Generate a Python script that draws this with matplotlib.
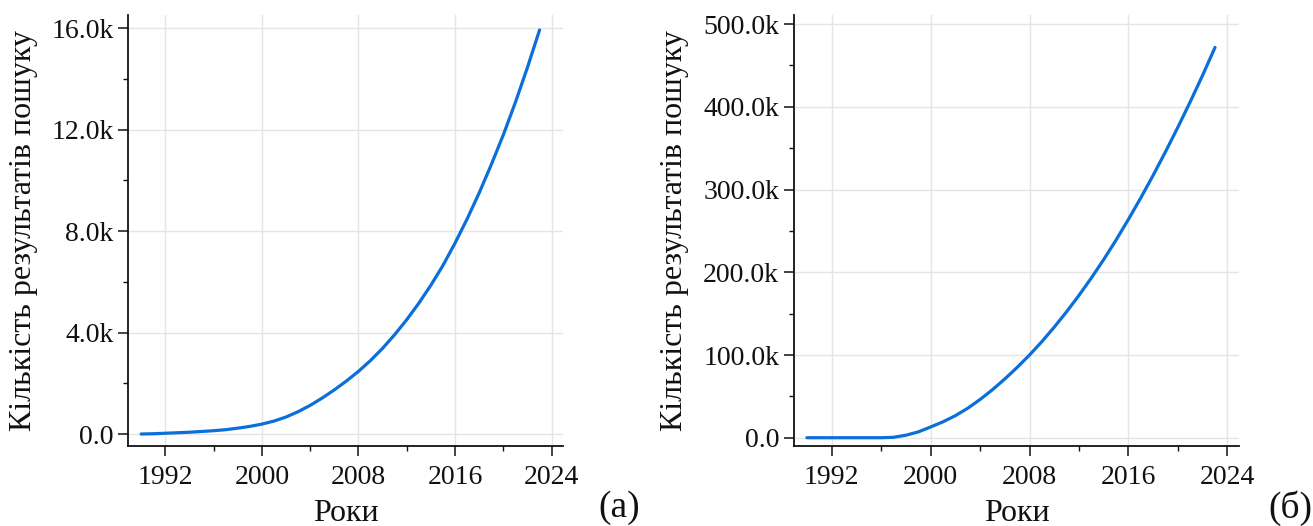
import matplotlib
matplotlib.use("Agg")
import matplotlib.pyplot as plt
from matplotlib.ticker import MultipleLocator, FixedLocator, FixedFormatter

years = list(range(1990, 2024))

# panel (а): values in thousands
values_a = [0.0, 0.01, 0.03, 0.05, 0.07, 0.10, 0.13, 0.17, 0.23, 0.30,
            0.39, 0.51, 0.67, 0.88, 1.13, 1.42, 1.74, 2.09, 2.47, 2.90,
            3.38, 3.92, 4.51, 5.16, 5.87, 6.65, 7.53, 8.48, 9.51, 10.62,
            11.80, 13.08, 14.46, 15.93]

# panel (б): values in thousands
values_b = [0, 0, 0, 0, 0, 0, 0, 0.5, 3, 7,
            13, 19.2, 26.6, 35.6, 46.2, 58.0, 71.0, 85.0, 100.0, 116.2,
            133.7, 152.3, 172.1, 193.1, 215.4, 239.0, 264.0, 290.0, 317.3, 345.8,
            375.4, 406.2, 438.2, 471.8]

xticks = [1992, 2000, 2008, 2016, 2024]
xtick_labels = ["1992", "2000", "2008", "2016", "2024"]
yticks_a = [0, 4, 8, 12, 16]
ytick_labels_a = ["0.0", "4.0k", "8.0k", "12.0k", "16.0k"]
yticks_b = [0, 100, 200, 300, 400, 500]
ytick_labels_b = ["0.0", "100.0k", "200.0k", "300.0k", "400.0k", "500.0k"]

ylabel = "Кількість результатів пошуку"
xlabel = "Роки"

plt.rcParams['font.family'] = ['Liberation Serif', 'DejaVu Serif']

W, H = 1313, 526
fig = plt.figure(figsize=(W / 100, H / 100), dpi=100)

line_color = "#0a6fd8"

def px_ax(x0, x1, y_top, y_bot):
    return [x0 / W, (H - y_bot) / H, (x1 - x0) / W, (y_bot - y_top) / H]

ax1 = fig.add_axes(px_ax(128.4, 563, 15, 446))
ax2 = fig.add_axes(px_ax(793.8, 1239, 15, 446))

def style(ax, yt, ytl, ylim, yminor, label_x):
    ax.set_xlim(1988.94, 2024.94)
    ax.set_ylim(*ylim)
    ax.xaxis.set_major_locator(FixedLocator(xticks))
    ax.xaxis.set_major_formatter(FixedFormatter(xtick_labels))
    ax.xaxis.set_minor_locator(MultipleLocator(4))
    ax.yaxis.set_major_locator(FixedLocator(yt))
    ax.yaxis.set_major_formatter(FixedFormatter(ytl))
    ax.yaxis.set_minor_locator(MultipleLocator(yminor))
    for s in ("top", "right"):
        ax.spines[s].set_visible(False)
    for s in ("left", "bottom"):
        ax.spines[s].set_linewidth(1.3)
        ax.spines[s].set_color("#111111")
    ax.tick_params(which="major", direction="out", length=7, width=1.1,
                   labelsize=20, pad=3.5, colors="#111111")
    ax.tick_params(which="minor", direction="out", length=3.5, width=1.0,
                   colors="#111111")
    ax.tick_params(axis="x", which="major", pad=6.5)
    ax.grid(True, which="major", color="#e5e5e5", linewidth=1.0)
    ax.set_axisbelow(True)
    ax.set_ylabel(ylabel, fontsize=23, color="#111111")
    ax.set_xlabel(xlabel, fontsize=23, color="#111111")
    ax.yaxis.set_label_coords(label_x, 0.5)
    ax.xaxis.set_label_coords(0.5, -0.123)

style(ax1, yticks_a, ytick_labels_a, (-0.473, 16.52), 2, -0.2085)
style(ax2, yticks_b, ytick_labels_b, (-10.0, 511.0), 50, -0.2354)

ax1.plot(years, values_a, color=line_color, linewidth=2.3, solid_capstyle="round")
ax2.plot(years, values_b, color=line_color, linewidth=2.3, solid_capstyle="round")

fig.text(598 / W, 1 - 490 / H, "(а)", fontsize=27, ha="left", va="top", color="#111111")
fig.text(1268 / W, 1 - 490 / H, "(б)", fontsize=27, ha="left", va="top", color="#111111")

fig.savefig("out.png", dpi=100, facecolor="white")
